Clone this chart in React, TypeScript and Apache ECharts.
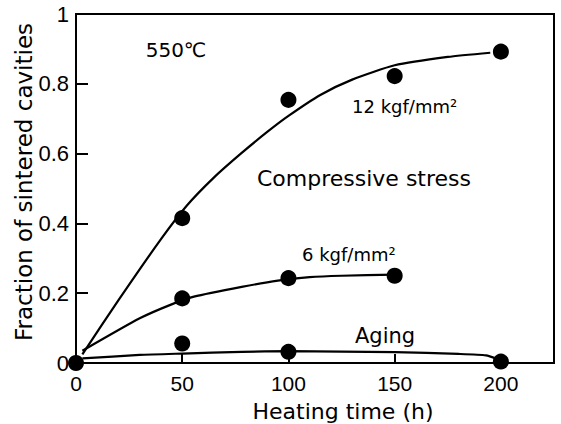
import React, { useEffect, useRef } from "react";
import * as echarts from "echarts";

// Measured points (heating time h, fraction of sintered cavities)
const origin: number[][] = [[0, 0]];
const pts12: number[][] = [[50, 0.415], [100, 0.754], [150, 0.822], [200, 0.892]];
const pts6: number[][] = [[50, 0.185], [100, 0.243], [150, 0.25]];
const ptsAging: number[][] = [[50, 0.056], [100, 0.032], [200, 0.004]];

// Hand-drawn fitted curves
const fit12X = [3, 20, 40, 52, 65, 78, 90, 100, 115, 130, 150, 175, 195];
const fit12Y = [0.025, 0.18, 0.355, 0.45, 0.532, 0.602, 0.662, 0.708, 0.768, 0.812, 0.853, 0.877, 0.889];
const fit6X = [3, 30, 45, 55.5, 78, 95, 110, 125, 150];
const fit6Y = [0.035, 0.128, 0.168, 0.19, 0.218, 0.236, 0.246, 0.25, 0.253];
const fitAgX = [3, 30, 50, 78, 100, 150, 180, 193, 198];
const fitAgY = [0.013, 0.023, 0.027, 0.032, 0.034, 0.031, 0.026, 0.022, 0.012];

const xTicks = [0, 50, 100, 150, 200];
const yTicks = [0, 0.2, 0.4, 0.6, 0.8, 1];

const zip = (xs: number[], ys: number[]) => xs.map((x, i) => [x, ys[i]]);

export default function App() {
  const ref = useRef<HTMLDivElement>(null);
  useEffect(() => {
    if (!ref.current) return;
    const chart = echarts.init(ref.current, null, { renderer: "svg" });
    const black = "#000";
    const lineStyle = { color: black, width: 2.2 };
    const dot = { color: black, opacity: 1 };
    const ringDot = { color: black, opacity: 1, borderColor: "#fff", borderWidth: 4 };
    const curve = (xs: number[], ys: number[]) => ({
      type: "line", data: zip(xs, ys), smooth: 0.2,
      symbol: "none", lineStyle,
    });
    chart.setOption({
      animation: false,
      backgroundColor: "#fff",
      grid: {
        left: 76, right: 7, top: 14, bottom: 61,
        show: true, borderColor: black, borderWidth: 2,
      },
      xAxis: {
        type: "value", min: 0, max: 225, interval: 50,
        axisLine: { show: true, lineStyle: { color: black, width: 2 } },
        axisTick: { show: true, inside: true, length: 9, lineStyle: { color: black, width: 2 } },
        axisLabel: {
          color: black, fontFamily: "Liberation Sans", fontSize: 21, margin: 10,
          showMaxLabel: false,
          formatter: (v: number) => (xTicks.includes(v) ? String(v) : ""),
        },
        splitLine: { show: false },
      },
      yAxis: {
        type: "value", min: 0, max: 1, interval: 0.2,
        axisLine: { show: true, lineStyle: { color: black, width: 2 } },
        axisTick: { show: true, inside: true, length: 12, lineStyle: { color: black, width: 2 } },
        axisLabel: {
          color: black, fontFamily: "Liberation Sans", fontSize: 22, margin: 7,
          formatter: (v: number) => {
            const t = yTicks.find((y) => Math.abs(y - v) < 1e-9);
            return t === undefined ? "" : String(t);
          },
        },
        splitLine: { show: false },
      },
      series: [
        curve(fit12X, fit12Y),
        curve(fit6X, fit6Y),
        curve(fitAgX, fitAgY),
        { type: "scatter", data: pts12, symbolSize: 20, itemStyle: ringDot, clip: false },
        { type: "scatter", data: pts6, symbolSize: 20, itemStyle: ringDot, clip: false },
        { type: "scatter", data: ptsAging, symbolSize: 16, itemStyle: dot, clip: false },
        { type: "scatter", data: origin, symbolSize: 16, itemStyle: dot, clip: false },
      ],
      graphic: [
        {
          type: "text", x: 24, y: 182, rotation: Math.PI / 2,
          style: { text: "Fraction of sintered cavities", font: "23px 'DejaVu Sans'", fill: black, align: "center", verticalAlign: "middle" },
        },
        {
          type: "text", x: 343, y: 411,
          style: { text: "Heating time (h)", font: "22px 'DejaVu Sans'", fill: black, align: "center", verticalAlign: "middle" },
        },
        {
          type: "text", x: 176, y: 50,
          style: { text: "550℃", font: "20px 'DejaVu Sans'", fill: black, align: "center", verticalAlign: "middle" },
        },
        {
          type: "text", x: 352, y: 106,
          style: { text: "12 kgf/mm²", font: "18px 'DejaVu Sans'", fill: black, align: "left", verticalAlign: "middle" },
        },
        {
          type: "text", x: 257, y: 178,
          style: { text: "Compressive stress", font: "22px 'DejaVu Sans'", fill: black, align: "left", verticalAlign: "middle" },
        },
        {
          type: "text", x: 302, y: 254,
          style: { text: "6 kgf/mm²", font: "18px 'DejaVu Sans'", fill: black, align: "left", verticalAlign: "middle" },
        },
        {
          type: "text", x: 355, y: 336,
          style: { text: "Aging", font: "21px 'DejaVu Sans'", fill: black, align: "left", verticalAlign: "middle" },
        },
      ],
    });
    return () => chart.dispose();
  }, []);
  return (
    <div
      ref={ref}
      style={{ position: "fixed", left: 0, top: 0, width: 561, height: 424, background: "#fff" }}
    />
  );
}
